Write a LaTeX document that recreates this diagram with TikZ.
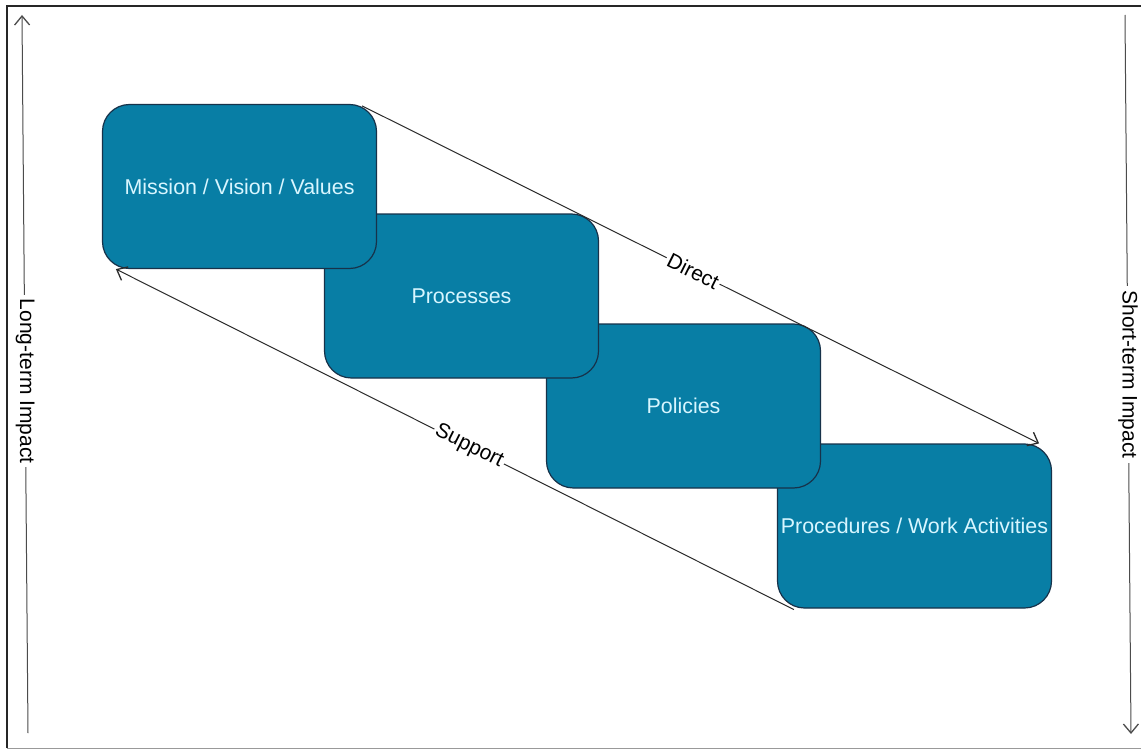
\documentclass[tikz,border=0pt]{standalone}
\usepackage{fontspec}
\setmainfont{Liberation Sans}
\usetikzlibrary{calc,arrows.meta}
\definecolor{boxfill}{HTML}{087EA5}
\definecolor{boxedge}{HTML}{17324A}
\definecolor{boxtext}{HTML}{D8F6FF}
\definecolor{linegray}{HTML}{2B2B2B}
\tikzset{
  stepbox/.style={draw=boxedge, line width=1.2pt, fill=boxfill, rounded corners=27pt,
    minimum width=274pt, minimum height=164pt, inner sep=0pt, text=boxtext,
    font=\fontsize{21.4}{25}\selectfont},
  conn/.style={draw=linegray, line width=1pt, -{Straight Barb[length=9pt,width=15pt,line width=1.3pt]}},
  lbl/.style={fill=white, inner sep=3pt, text=black, font=\fontsize{21}{25}\selectfont},
  frame/.style={draw=black!85, line width=1.2pt}
}
\begin{document}
\begin{tikzpicture}[x=1pt,y=-1pt]
\useasboundingbox (0,0) rectangle (1141,749);
\fill[white] (0,0) rectangle (1141,749);
% frame
\draw[frame] (7,748) -- (7,6) -- (1141,6);
\draw[frame, draw=black!40, line width=0.6pt] (7,748) -- (1141,748);
% side arrows
\coordinate (lb) at (28,733);
\coordinate (lt) at (22,15);
\coordinate (rt) at (1125,15);
\coordinate (rb) at (1131,734);
\draw[conn, draw=black!70] (lb) -- node[lbl, rotate=-90, pos=0.49, inner sep=4pt] (ltlbl) {Long-term Impact} (lt);
\draw[conn, draw=black!70] (rt) -- node[lbl, rotate=-90, pos=0.5, inner sep=4pt] (stlbl) {Short-term Impact} (rb);
% boxes
\node[stepbox] (b4) at (914.5,526) {Procedures / Work Activities};
\node[stepbox] (b3) at (683.5,406) {Policies};
\node[stepbox] (b2) at (461.5,296) {Processes};
\node[stepbox] (b1) at (239.5,186.5) {Mission / Vision / Values};
% connectors
\draw[conn] ($(b1.north east)+(-15,2)$) -- node[lbl, sloped, pos=0.489, inner sep=2pt] (dl) {Direct} ($(b4.north east)+(-13,0)$);
\draw[conn] ($(b4.south west)+(17,1)$) -- node[lbl, sloped, pos=0.479, inner sep=2pt] (sl) {Support} ($(b1.south west)+(14,0)$);
\end{tikzpicture}
\end{document}
